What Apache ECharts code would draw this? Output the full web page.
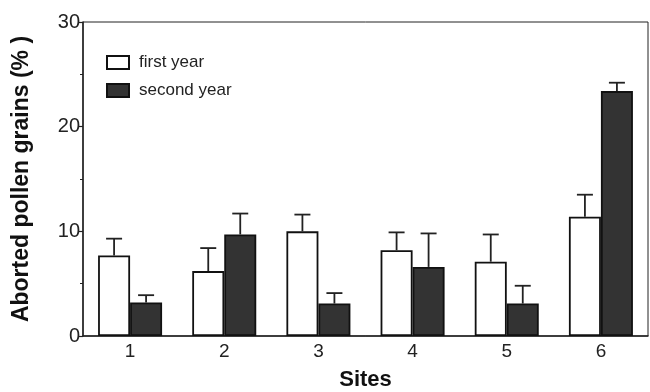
<!DOCTYPE html>
<html>
<head>
<meta charset="utf-8">
<script src="https://cdn.jsdelivr.net/npm/echarts@6/dist/echarts.min.js"></script>
<style>html,body{margin:0;padding:0;background:#fff;}#c{width:650px;height:392px;}</style>
</head>
<body>
<div id="c"></div>
<script>
const sites = ['1', '2', '3', '4', '5', '6'];
const firstYear = [7.7, 6.2, 10.0, 8.2, 7.1, 11.4];
const firstYearErr = [1.6, 2.2, 1.6, 1.7, 2.6, 2.1];
const secondYear = [3.2, 9.7, 3.1, 6.6, 3.1, 23.4];
const secondYearErr = [0.7, 2.0, 1.0, 3.2, 1.7, 0.8];
const yTicks = [0, 10, 20, 30];

const BAR_W = 32;
const FONT = '"Liberation Sans", Arial, sans-serif';

function errData(means, errs) {
  return means.map((m, i) => [i, m, m + errs[i]]);
}
function errRenderer(side) {
  return function (params, api) {
    const i = api.value(0);
    const base = api.coord([i, api.value(1)]);
    const top = api.coord([i, api.value(2)]);
    const x = base[0] + side * BAR_W / 2;
    const style = { stroke: '#222', lineWidth: 1.8, fill: null };
    return {
      type: 'group',
      children: [
        { type: 'line', shape: { x1: x, y1: base[1], x2: x, y2: top[1] }, style: style },
        { type: 'line', shape: { x1: x - 8, y1: top[1], x2: x + 8, y2: top[1] }, style: style }
      ]
    };
  };
}

const chart = echarts.init(document.getElementById('c'));
chart.setOption({
  animation: false,
  backgroundColor: '#fff',
  grid: { left: 83, right: 2, top: 22, bottom: 56, outerBoundsMode: 'none', containLabel: false, show: true, borderColor: '#222', borderWidth: 1, backgroundColor: 'transparent' },
  legend: {
    orient: 'vertical', left: 101, top: 49,
    icon: 'rect',
    itemWidth: 22, itemHeight: 13, itemGap: 11,
    data: ['first year', 'second year'],
    textStyle: { fontFamily: FONT, fontSize: 17, color: '#222', padding: [0, 0, 0, 5] }
  },
  xAxis: {
    type: 'category', data: sites,
    axisLine: { lineStyle: { color: '#222', width: 1.5 } },
    axisTick: { show: false },
    axisLabel: { fontFamily: FONT, fontSize: 19, color: '#222', margin: 6 },
    name: 'Sites', nameLocation: 'middle', nameGap: 33,
    nameTextStyle: { fontFamily: FONT, fontSize: 22, fontWeight: 'bold', color: '#111' }
  },
  yAxis: {
    type: 'value', min: yTicks[0], max: yTicks[yTicks.length - 1], interval: 10,
    axisLine: { show: true, lineStyle: { color: '#222', width: 1.5 } },
    axisTick: { show: true, length: 4, lineStyle: { color: '#222', width: 1.2 } },
    minorTick: { show: true, splitNumber: 2, length: 3, lineStyle: { color: '#222', width: 1 } },
    splitLine: { show: false },
    axisLabel: { fontFamily: FONT, fontSize: 20, color: '#222', margin: 3 },
    name: 'Aborted pollen grains (% )', nameLocation: 'middle', nameGap: 50,
    nameTextStyle: { fontFamily: FONT, fontSize: 23, fontWeight: 'bold', color: '#111' }
  },
  series: [
    {
      name: 'first year', type: 'bar', data: firstYear, barWidth: BAR_W, barGap: '0%',
      itemStyle: { color: '#fff', borderColor: '#111', borderWidth: 1.8 }
    },
    {
      name: 'second year', type: 'bar', data: secondYear, barWidth: BAR_W, barGap: '0%',
      itemStyle: { color: '#333', borderColor: '#111', borderWidth: 1.8 }
    },
    { type: 'custom', data: errData(firstYear, firstYearErr), renderItem: errRenderer(-1), encode: { x: 0, y: [1, 2] }, z: 3 },
    { type: 'custom', data: errData(secondYear, secondYearErr), renderItem: errRenderer(1), encode: { x: 0, y: [1, 2] }, z: 3 }
  ]
});
</script>
</body>
</html>
